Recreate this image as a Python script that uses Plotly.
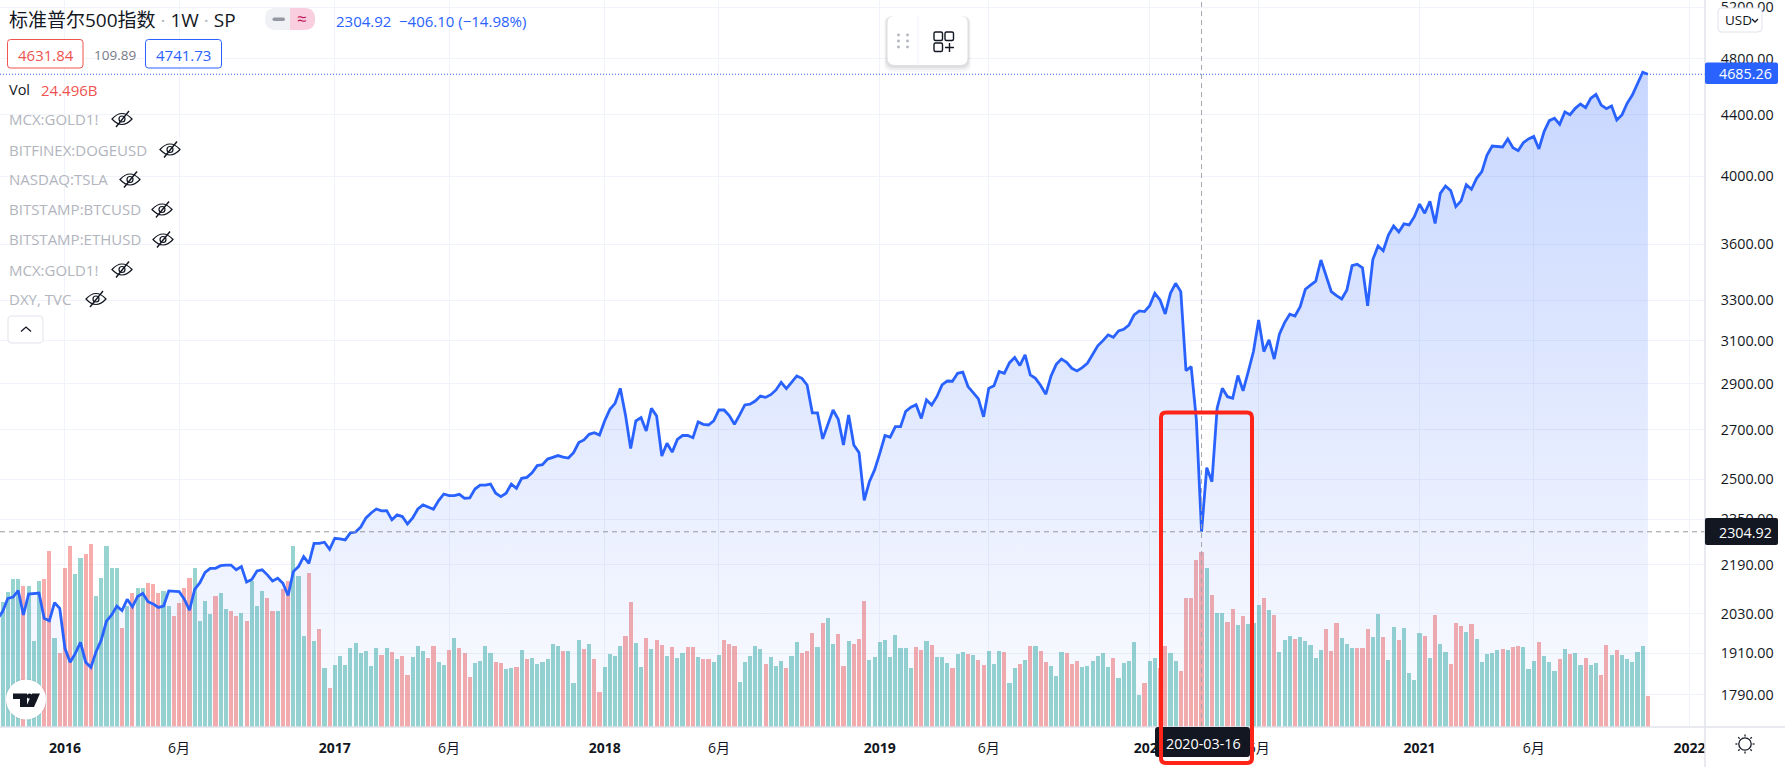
import math
import pandas as pd
import plotly.graph_objects as go

W, H = 1785, 767
TOP_BLEED = 10  # figure starts above the window so the clipped 5200 label still draws

# weekly closes, first week is just left of the frame
start_week = "2015-10-05"
closes = [
    2014, 2037, 2079, 2083, 2104, 2026, 2093, 2095, 2096, 2016, 2008, 2065, 2047, 1924, 1883, 1909, 1942, 1883, 1868, 1914,
    1949, 2007, 2026, 2054, 2040, 2076, 2052, 2085, 2095, 2068, 2061, 2050, 2054, 2103, 2103, 2101, 2076, 2041, 2108, 2130,
    2164, 2178, 2178, 2187, 2189, 2189, 2173, 2184, 2132, 2141, 2169, 2173, 2156, 2136, 2145, 2128, 2088, 2167, 2184, 2218,
    2195, 2264, 2264, 2268, 2243,
    2282, 2280, 2276, 2301, 2304, 2322, 2355, 2373, 2388, 2381, 2382, 2348, 2366, 2360, 2333, 2355, 2388, 2403, 2395, 2387,
    2419, 2444, 2438, 2438, 2443, 2428, 2429, 2463, 2478, 2478, 2482, 2447, 2434,
    2447, 2482, 2466, 2504, 2508, 2526, 2554, 2558, 2580, 2587, 2594, 2588, 2584, 2606, 2647, 2658, 2681, 2688, 2678, 2738,
    2787, 2813, 2879, 2763, 2623, 2737, 2751, 2695, 2791, 2758, 2592, 2644, 2608, 2660, 2676, 2676, 2667, 2733, 2723, 2720,
    2738, 2784, 2784, 2760, 2723, 2763, 2806, 2809, 2823, 2845, 2839, 2851, 2872, 2906, 2878, 2906, 2935, 2924, 2894, 2772,
    2772, 2662, 2727, 2784, 2744, 2637, 2763, 2637, 2606, 2420, 2491, 2537, 2603, 2676, 2669, 2713, 2713, 2778, 2796, 2807,
    2748, 2828, 2806, 2842, 2894, 2912, 2911, 2947, 2952, 2887, 2860, 2832, 2755, 2879, 2891, 2955,
    2947, 2996, 3020, 2983, 3032, 2940, 2924, 2892, 2853, 2935, 2988, 3013, 2998, 2970, 2958, 2973, 2993, 3032, 3075, 3100,
    3128, 3116, 3147, 3155, 3176, 3226, 3246, 3243, 3273, 3336, 3302, 3231, 3336, 3388, 3345, 2959, 2978, 2742, 2304.92, 2546,
    2491, 2792, 2879, 2842, 2835, 2937, 2868, 2955, 3048, 3201, 3048, 3104, 3013, 3131, 3188, 3230, 3221, 3268,
    3357, 3379, 3400, 3513, 3423, 3345, 3324, 3307, 3353, 3482, 3490, 3471, 3272, 3515, 3590, 3564, 3652, 3703, 3669, 3715,
    3709, 3757, 3831, 3777, 3848, 3718, 3895, 3940, 3912, 3816, 3850, 3948, 3920, 3987, 4029, 4134, 4192, 4188, 4186, 4238,
    4181, 4162, 4214, 4238, 4255, 4173, 4287, 4360, 4376, 4335, 4419, 4401, 4444, 4474, 4449, 4514, 4542, 4467, 4442, 4461,
    4365, 4399, 4479, 4537, 4615, 4700, 4685.26,
]

# volume in billions
volumes = [
    18.0, 17.5, 18.9, 20.7, 20.7, 19.8, 19.8, 12.0, 20.5, 20.7, 24.7, 12.4, 10.3, 22.2, 25.4, 21.4, 23.7, 24.2, 25.6, 18.3,
    20.8, 25.3, 22.2, 22.2, 13.9, 16.9, 18.7, 19.5, 19.5, 20.1, 20.0, 18.7, 19.1, 17.0, 15.5, 17.4, 19.4, 20.8, 22.2, 14.9,
    17.6, 15.8, 18.3, 18.7, 16.5, 16.2, 15.5, 16.0, 14.9, 20.4, 17.0, 19.1, 18.0, 16.3, 16.3, 19.3, 20.5, 25.4, 21.2, 12.7,
    21.6, 12.1, 13.7, 8.2, 5.5,
    8.7, 10.0, 8.7, 11.1, 11.8, 10.4, 10.7, 8.6, 11.1, 10.1, 11.1, 10.5, 9.5, 10.0, 7.3, 9.8, 11.4, 10.7, 9.7, 11.4,
    9.1, 8.7, 10.8, 12.5, 11.1, 10.4, 7.0, 9.0, 9.3, 11.4, 10.4, 9.1, 9.0, 8.1, 8.3, 8.4, 10.8, 9.5, 9.7, 8.8,
    9.1, 9.5, 11.6, 11.4, 10.7, 10.7, 6.2, 12.2, 10.9, 11.6, 9.5, 4.9, 8.4, 10.2, 10.0, 11.4, 12.8, 17.5, 11.8, 8.4,
    12.5, 10.9, 12.2, 11.5, 10.0,
    11.2, 9.7, 10.4, 11.2, 11.2, 9.8, 9.5, 9.5, 9.1, 10.1, 12.2, 11.6, 11.4, 6.3, 9.1, 10.0, 11.4, 10.9, 8.8, 9.8,
    8.6, 9.3, 8.3, 10.0, 11.9, 10.4, 10.7, 13.2, 11.2, 14.6, 15.3, 11.6, 13.0, 8.6, 12.1, 11.6, 12.3, 17.7, 9.4, 9.8,
    11.9, 12.2, 9.8, 12.9, 11.1, 11.1, 8.3, 11.2, 10.8, 12.1, 11.5, 9.8, 9.8, 9.0, 8.3, 10.2, 10.5, 10.2, 10.1, 9.4,
    8.7, 10.7, 8.8, 10.7,
    10.5, 6.2, 8.3, 8.8, 9.4, 11.4, 11.4, 10.7, 9.1, 8.6, 7.2, 10.5, 10.4, 8.8, 9.3, 8.4, 8.6, 9.3, 10.0, 10.4,
    8.4, 9.7, 6.9, 9.0, 9.3, 11.9, 4.5, 6.2, 9.3, 9.7, 8.3, 11.4, 10.4, 9.3, 7.9, 18.1, 18.0, 23.4, 24.496, 22.2,
    18.5, 16.0, 16.0, 14.7, 16.5, 14.3, 15.6, 14.4, 14.6, 17.1, 18.0, 16.4, 15.7, 10.5, 12.2, 12.8, 12.3, 12.6, 12.1, 11.5,
    9.7, 10.8,
    13.7, 10.7, 14.6, 12.5, 11.6, 11.1, 11.1, 11.1, 13.7, 12.6, 15.8, 12.6, 9.4, 14.0, 12.2, 13.9, 7.6, 6.6, 13.2, 12.8,
    9.7, 15.7, 11.6, 10.5, 8.8, 14.6, 14.2, 13.3, 14.4, 12.3, 9.1, 10.2, 10.4, 10.8, 10.9, 10.8, 11.2, 11.4, 11.2, 8.1,
    9.3, 11.9, 10.0, 9.1, 7.9, 9.5, 10.9, 10.2, 10.4, 8.7, 9.7, 8.7, 9.0, 7.3, 11.5, 10.1, 10.8, 10.1, 9.5, 9.1,
    10.5, 11.4, 4.3,
]

# bar direction as coloured on the chart, g = teal, r = red
vol_dirs = (
    "g" "GGGGRGGGRR" "GRRRGGRRGG" "GGGRGRGGRR" "RGGRRRRGGG" "GRGGRRGRGG" "GRRGRRGGGR" "GRGRGGGGGG"
    "GGGRGRGRRG" "GGRRGGRGRR" "RGGGGRRGGR" "GRGGGGGGRG" "GGRGRRGGGG" "RRGGRGRRGR" "GGRRGRRGGR"
    "RRGGGGGRGG" "GRGGRRRGRG" "GRRGRRRGGG" "GGGGGGRRGR" "GGGRGGRGRR" "GGGRGGRGRG" "RRGGGRRRGG"
    "GGGGRGGGGG" "RGGRRGGRRR" "RRGRGGRRGR" "GGGRGRGGGR" "GGGGGRRRGG" "GRRRGGRGGR" "GGGGRGRGGR"
    "RRGRGGGGGR" "GRRGGGRGGG" "RGRGGRGGRR" "GRGGGGGR"
).upper()

price_ticks = [5200, 4800, 4400, 4000, 3600, 3300, 3100, 2900, 2700, 2500, 2350, 2190, 2030, 1910, 1790]
time_ticks = ["2016-01-04", "2016-06-06", "2017-01-02", "2017-06-05", "2018-01-01", "2018-06-04", "2019-01-07",
              "2019-06-03", "2020-01-06", "2020-06-01", "2021-01-04", "2021-06-07", "2022-01-03"]
time_labels = ["<b>2016</b>", "6月", "<b>2017</b>", "6月", "<b>2018</b>", "6月", "<b>2019</b>",
               "6月", "<b>2020</b>", "6月", "<b>2021</b>", "6月", "<b>2022</b>"]

legend_rows = [("MCX:GOLD1!", 119, 122), ("BITFINEX:DOGEUSD", 149.5, 170), ("NASDAQ:TSLA", 179.5, 130),
               ("BITSTAMP:BTCUSD", 209.5, 162), ("BITSTAMP:ETHUSD", 239.5, 163), ("MCX:GOLD1!", 269.5, 122),
               ("DXY, TVC", 299, 96)]

last_price = 4685.26
cross_price = 2304.92
cross_date = "2020-03-16"

BLUE = "#2962ff"
RED = "#ef5350"
DARK = "#131722"
GRID = "#f0f3fa"
BORDER = "#e0e3eb"
FONT = "'Open Sans', 'Noto Sans CJK SC', sans-serif"

axis_x = 1705
axis_y = 727

weeks = pd.date_range(start_week, periods=len(closes), freq="7D")
assert len(closes) == len(volumes) == len(vol_dirs) == 319


def px(x, y):
    return f"{x / W:.5f},{1 - y / H:.5f}"


def rrect(x0, y0, x1, y1, r):
    return ("M" + px(x0 + r, y0) + " L" + px(x1 - r, y0) + " Q" + px(x1, y0) + " " + px(x1, y0 + r)
            + " L" + px(x1, y1 - r) + " Q" + px(x1, y1) + " " + px(x1 - r, y1)
            + " L" + px(x0 + r, y1) + " Q" + px(x0, y1) + " " + px(x0, y1 - r)
            + " L" + px(x0, y0 + r) + " Q" + px(x0, y0) + " " + px(x0 + r, y0) + " Z")


def shape_path(path, fill="rgba(0,0,0,0)", line=None, width=1):
    return dict(type="path", xref="paper", yref="paper", path=path, fillcolor=fill,
                line=dict(color=line or "rgba(0,0,0,0)", width=width if line else 0), layer="above")


def circle(cx, cy, r, fill="rgba(0,0,0,0)", line=None, width=1):
    return dict(type="circle", xref="paper", yref="paper", x0=(cx - r) / W, x1=(cx + r) / W,
                y0=1 - (cy + r) / H, y1=1 - (cy - r) / H, fillcolor=fill,
                line=dict(color=line or "rgba(0,0,0,0)", width=width if line else 0), layer="above")


def txt(x, y, s, color=DARK, size=15, anchor="left"):
    return dict(x=x / W, y=1 - y / H, xref="paper", yref="paper", text=s, showarrow=False, xanchor=anchor,
                yanchor="middle", font=dict(family=FONT, size=size, color=color), align=anchor, borderpad=0)


def eye_off(cx, cy):
    out = [shape_path("M" + px(cx - 10, cy) + " Q" + px(cx, cy - 11) + " " + px(cx + 10, cy)
                      + " Q" + px(cx, cy + 11) + " " + px(cx - 10, cy) + " Z", line=DARK, width=1.2)]
    out.append(circle(cx, cy, 3, line=DARK, width=1.2))
    out.append(shape_path("M" + px(cx - 6, cy + 8) + " L" + px(cx + 7, cy - 8), line=DARK, width=1.4))
    return out


fig = go.Figure()

fig.add_trace(go.Bar(
    x=weeks, y=volumes, yaxis="y", width=7 * 86400000 * 0.8,
    marker=dict(color=["rgba(38,166,154,0.48)" if d == "G" else "rgba(239,83,80,0.48)" for d in vol_dirs], line_width=0),
    hoverinfo="skip",
))

fig.add_trace(go.Scatter(
    x=weeks, y=closes, yaxis="y2", mode="lines", line=dict(color=BLUE, width=2.8), hoverinfo="skip",
    fill="tozeroy",
    fillgradient=dict(type="vertical", start=1703, stop=4700,
                      colorscale=[[0, "rgba(41,98,255,0.02)"], [1, "rgba(41,98,255,0.26)"]]),
))

shapes = [
    # price lines and crosshair
    dict(type="line", xref="x", yref="paper", x0=cross_date, x1=cross_date, y0=1 - axis_y / H, y1=1,
         line=dict(color="#a3a6af", width=1, dash="5px,4px"), layer="above"),
    dict(type="line", xref="paper", yref="y2", x0=0, x1=axis_x / W, y0=cross_price, y1=cross_price,
         line=dict(color="#9598a1", width=1, dash="5px,4px"), layer="above"),
    dict(type="line", xref="paper", yref="y2", x0=0, x1=axis_x / W, y0=last_price, y1=last_price,
         line=dict(color=BLUE, width=1, dash="1px,2px"), layer="above"),
    # panels around the plot
    shape_path(rrect(axis_x, axis_y, W + 5, H + 5, 0), fill="white"),
    dict(type="line", xref="paper", yref="paper", x0=axis_x / W, x1=axis_x / W, y0=0, y1=1,
         line=dict(color=BORDER, width=1.5), layer="above"),
    dict(type="line", xref="paper", yref="paper", x0=0, x1=1, y0=1 - axis_y / H, y1=1 - axis_y / H,
         line=dict(color=BORDER, width=1.5), layer="above"),
    # price labels
    shape_path(rrect(axis_x, 62.5, 1778, 84, 2), fill=BLUE),
    shape_path(rrect(axis_x, 518, 1778, 545, 2), fill=DARK),
    shape_path(rrect(1718, 8, 1762, 32, 4), fill="white", line=BORDER),
    shape_path("M" + px(1752, 19) + " L" + px(1755, 22) + " L" + px(1758, 19), line=DARK, width=1.3),
    # date label and hand drawn box
    shape_path(rrect(1155, axis_y, 1250, 757, 3), fill=DARK),
    shape_path(rrect(1161, 412.5, 1252, 763, 5), line="#ff2418", width=4),
    # header boxes
    shape_path(rrect(7.5, 39.5, 83, 68, 3), fill="white", line=RED),
    shape_path(rrect(145.5, 39.5, 221.5, 68, 3), fill="white", line=BLUE),
    # pill
    shape_path(rrect(265, 8, 315, 30, 11), fill="#f0f1f4"),
    shape_path("M" + px(290, 8) + " L" + px(304, 8) + " Q" + px(315, 8) + " " + px(315, 19)
               + " Q" + px(315, 30) + " " + px(304, 30) + " L" + px(290, 30) + " Z", fill="#f9cfe0"),
    shape_path(rrect(272.5, 17.5, 285, 21, 1.7), fill="#9598a1"),
    # collapse button
    shape_path(rrect(8, 316, 43, 343, 4), fill="white", line=BORDER),
    shape_path("M" + px(21, 331.5) + " L" + px(26, 327) + " L" + px(31, 331.5), line=DARK, width=1.3),
    # logo
    circle(26, 699.5, 21, fill="rgba(0,0,0,0.06)"),
    circle(26, 699.5, 20, fill="white"),
    shape_path("M" + px(13, 693.5) + " L" + px(27, 693.5) + " L" + px(27, 707) + " L" + px(20, 707)
               + " L" + px(20, 699) + " L" + px(13, 699) + " Z", fill=DARK),
    circle(29.5, 696, 2.6, fill=DARK),
    shape_path("M" + px(32, 693.5) + " L" + px(40, 693.5) + " L" + px(34, 707) + " L" + px(26, 707) + " Z", fill=DARK),
]

# floating toolbar with a soft shadow
for off, alpha in [(6, 0.03), (4, 0.05), (2, 0.07)]:
    shapes.append(shape_path(rrect(887 - off / 2, 16, 968 + off / 2, 66 + off, 8), fill=f"rgba(40,45,60,{alpha})"))
shapes.append(shape_path(rrect(887.5, 16, 967.5, 65, 7), fill="white"))
shapes.append(dict(type="line", xref="paper", yref="paper", x0=918 / W, x1=918 / W, y0=1 - 65 / H, y1=1 - 16 / H,
                   line=dict(color=GRID, width=1), layer="above"))
for gx in (898.5, 907.5):
    for gy in (35, 41, 47):
        shapes.append(circle(gx, gy, 1.4, fill="#b2b5be"))
for sx, sy in [(934, 32), (945, 32), (934, 43)]:
    shapes.append(shape_path(rrect(sx, sy, sx + 8.5, sy + 8.5, 1.5), line=DARK, width=1.4))
shapes.append(shape_path("M" + px(945, 47.5) + " L" + px(954, 47.5) + " M" + px(949.5, 43) + " L" + px(949.5, 52),
                         line=DARK, width=1.4))

# sun icon in the corner
shapes.append(circle(1745, 744, 6.2, line=DARK, width=1.3))
for k in range(8):
    a = k * math.pi / 4
    shapes.append(shape_path("M" + px(1745 + 7.6 * math.cos(a), 744 + 7.6 * math.sin(a))
                             + " L" + px(1745 + 9.6 * math.cos(a), 744 + 9.6 * math.sin(a)), line=DARK, width=1.3))

for name, row_y, eye_x in legend_rows:
    shapes += eye_off(eye_x, row_y)

annotations = [
    txt(8, 20, '标准普尔500指数 <span style="color:#b2b5be">·</span> 1W <span style="color:#b2b5be">·</span> SP', size=19),
    txt(335, 20.5, "2304.92", BLUE),
    txt(398, 20.5, "−406.10 (−14.98%)", BLUE),
    txt(45.5, 54.5, "4631.84", RED, anchor="center"),
    txt(115, 54.5, "109.89", "#787b86", size=13.5, anchor="center"),
    txt(183.5, 54.5, "4741.73", BLUE, anchor="center"),
    txt(8, 89.5, "Vol", size=14.5),
    txt(40, 89.5, "24.496B", RED),
    txt(301.5, 18.5, "≈", "#c2185b", size=17, anchor="center"),
    txt(1718, 73.5, f"{last_price:.2f}", "white", size=14.3),
    txt(1718, 532, f"{cross_price:.2f}", "white", size=14.3),
    txt(1724, 20, "USD", DARK, size=13.5),
    txt(1203, 743, cross_date, "white", size=14.3, anchor="center"),
]
for name, row_y, eye_x in legend_rows:
    annotations.append(txt(8, row_y, name, "#b2b5be"))

fig.update_layout(
    width=W, height=H + TOP_BLEED,
    margin=dict(l=0, r=0, t=TOP_BLEED, b=0, pad=0),
    paper_bgcolor="white", plot_bgcolor="white",
    showlegend=False, bargap=0,
    hovermode=False,
    font=dict(family=FONT, color=DARK),
    shapes=shapes,
    annotations=annotations,
    xaxis=dict(
        domain=[0, axis_x / W], type="date", range=["2015-10-08 10:00", "2022-01-24"],
        tickmode="array", tickvals=time_ticks, ticktext=time_labels,
        showgrid=True, gridcolor=GRID, gridwidth=1, zeroline=False, showline=False,
        ticks="outside", ticklen=8, tickcolor="rgba(0,0,0,0)", tickfont=dict(family=FONT, size=14, color=DARK),
    ),
    yaxis=dict(
        domain=[1 - axis_y / H, 1], range=[0, 101.76], visible=False, fixedrange=True,
    ),
    yaxis2=dict(
        overlaying="y", side="right", anchor="x", type="log",
        range=[math.log10(1703), math.log10(5257)],
        tickmode="array", tickvals=price_ticks, ticktext=[f"{t:.2f}" for t in price_ticks],
        showgrid=True, gridcolor=GRID, gridwidth=1, zeroline=False, showline=False,
        ticks="outside", ticklen=12, tickcolor="rgba(0,0,0,0)", tickfont=dict(family=FONT, size=14.3, color=DARK),
    ),
)

fig.write_html("out.html", config={"displayModeBar": False},
               post_script=f"document.body.style.margin='-{TOP_BLEED}px 0 0 0';document.body.style.overflow='hidden';")
